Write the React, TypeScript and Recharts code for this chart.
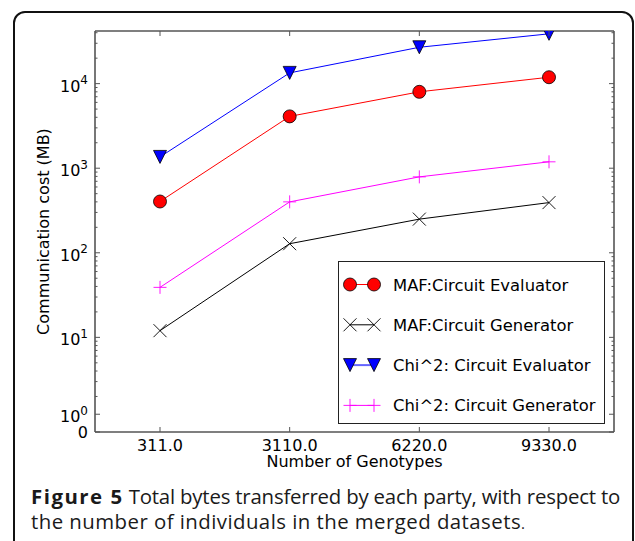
import React from 'react';
import { LineChart, Line, XAxis, YAxis, Legend } from 'recharts';

// ---------- data ----------
const genotypes = ['311.0', '3110.0', '6220.0', '9330.0'];
const mafEvaluator = [404, 4100, 8000, 11900];
const mafGenerator = [12, 128, 250, 392];
const chiEvaluator = [1360, 13400, 26900, 38800];
const chiGenerator = [39, 400, 790, 1190];

const yMajorTicks = [0, 1, 10, 100, 1000, 10000];
const yMajorLabels = ['0', '10^0', '10^1', '10^2', '10^3', '10^4'];
const yMinorMultipliers = [2, 3, 4, 5, 6, 7, 8, 9];
const yMinorDecades = [1, 10, 100, 1000, 10000];
const Y_MAX = 41900;

// ---------- symmetric-log style transform (linear below 2, log above) ----------
const LIN_THRESH = 2;
const LIN_SPAN = 0.42; // width of the linear part, in decades
const sy = (v: number) =>
  v <= LIN_THRESH ? (v * LIN_SPAN) / LIN_THRESH : LIN_SPAN + Math.log10(v / LIN_THRESH);

const Y_TOP = sy(Y_MAX);

type TickInfo = { major: boolean; label: string };
const tickInfo = new Map<string, TickInfo>();
const tkey = (u: number) => u.toFixed(5);
yMajorTicks.forEach((v, i) => tickInfo.set(tkey(sy(v)), { major: true, label: yMajorLabels[i] }));
yMinorDecades.forEach((d) =>
  yMinorMultipliers.forEach((m) => {
    const u = sy(d * m);
    if (u <= Y_TOP) tickInfo.set(tkey(u), { major: false, label: '' });
  })
);
const yTicks = Array.from(tickInfo.keys())
  .map(Number)
  .sort((a, b) => a - b);

const SERIES = [
  { key: 'mafE', name: 'MAF:Circuit Evaluator', values: mafEvaluator, color: '#ff0000', marker: 'circle' },
  { key: 'mafG', name: 'MAF:Circuit Generator', values: mafGenerator, color: '#000000', marker: 'x' },
  { key: 'chiE', name: 'Chi^2: Circuit Evaluator', values: chiEvaluator, color: '#0000ff', marker: 'tri' },
  { key: 'chiG', name: 'Chi^2: Circuit Generator', values: chiGenerator, color: '#ff00ff', marker: 'plus' },
];

const rows = genotypes.map((g, i) => {
  const r: Record<string, number | string> = { cat: g };
  SERIES.forEach((s) => {
    r[s.key] = sy(s.values[i]);
  });
  return r;
});

// ---------- layout constants ----------
const W = 635;
const CH = 480;
const PL = 95;
const PR = 614;
const PT = 31;
const PB = 432;
const AX = '#555555';
const FONT = 'DejaVu Sans, Verdana, sans-serif';

// ---------- markers ----------
const Marker = ({ kind, cx, cy, color }: { kind: string; cx: number; cy: number; color: string }) => {
  const s = 6.5;
  if (kind === 'circle')
    return <circle cx={cx} cy={cy} r={s} fill={color} stroke="#000" strokeWidth={0.8} />;
  if (kind === 'tri')
    return (
      <polygon
        points={`${cx - s},${cy - s} ${cx + s},${cy - s} ${cx},${cy + s}`}
        fill={color}
        stroke="#000"
        strokeWidth={0.8}
      />
    );
  if (kind === 'x')
    return (
      <g stroke={color} strokeWidth={0.9}>
        <line x1={cx - s} y1={cy - s} x2={cx + s} y2={cy + s} />
        <line x1={cx - s} y1={cy + s} x2={cx + s} y2={cy - s} />
      </g>
    );
  return (
    <g stroke={color} strokeWidth={0.9}>
      <line x1={cx - s} y1={cy} x2={cx + s} y2={cy} />
      <line x1={cx} y1={cy - s} x2={cx} y2={cy + s} />
    </g>
  );
};

// ---------- ticks ----------
const SupLabel = ({ x, y, label }: { x: number; y: number; label: string }) => {
  if (label.indexOf('^') < 0)
    return (
      <text x={x} y={y + 5.5} textAnchor="end" fontFamily={FONT} fontSize={16} fill="#000">
        {label}
      </text>
    );
  const [base, exp] = label.split('^');
  return (
    <text x={x} y={y + 8} textAnchor="end" fontFamily={FONT} fontSize={16} fill="#000">
      <tspan>{base}</tspan>
      <tspan dy={-7.5} fontSize={12}>
        {exp}
      </tspan>
    </text>
  );
};

const LeftTick = (p: any) => {
  const info = tickInfo.get(tkey(p.payload.value)) || { major: false, label: '' };
  const y = p.y;
  const len = info.major ? 5 : 2.5;
  return (
    <g>
      <line x1={PL} x2={PL + len} y1={y} y2={y} stroke={AX} strokeWidth={1} />
      {info.major ? <SupLabel x={88} y={y} label={info.label} /> : null}
    </g>
  );
};

const RightTick = (p: any) => {
  const info = tickInfo.get(tkey(p.payload.value)) || { major: false, label: '' };
  const y = p.y;
  const len = info.major ? 5 : 2.5;
  return <line x1={PR} x2={PR - len} y1={y} y2={y} stroke={AX} strokeWidth={1} />;
};

const BottomTick = (p: any) => (
  <g>
    <line x1={p.x} x2={p.x} y1={PB} y2={PB - 5} stroke={AX} strokeWidth={1} />
    <text x={p.x} y={451} textAnchor="middle" fontFamily={FONT} fontSize={16} fill="#000">
      {p.payload.value}
    </text>
  </g>
);

const TopTick = (p: any) => (
  <line x1={p.x} x2={p.x} y1={PT} y2={PT + 5} stroke={AX} strokeWidth={1} />
);

const XLabel = (p: any) => {
  const vb = p.viewBox || { x: PL, y: PB, width: PR - PL, height: 48 };
  return (
    <text x={vb.x + vb.width / 2} y={vb.y + 34.5} textAnchor="middle" fontFamily={FONT} fontSize={16} fill="#000">
      Number of Genotypes
    </text>
  );
};

const YLabel = (p: any) => {
  const vb = p.viewBox || { x: 0, y: PT, width: PL, height: PB - PT };
  const cx = 48.5;
  const cy = vb.y + vb.height / 2;
  return (
    <text
      x={cx}
      y={cy}
      transform={`rotate(-90, ${cx}, ${cy})`}
      textAnchor="middle"
      fontFamily={FONT}
      fontSize={16}
      fill="#000"
    >
      Communication cost (MB)
    </text>
  );
};

// ---------- legend ----------
const renderLegend = (props: any) => {
  const payload: any[] = props.payload || [];
  const ordered = SERIES.map((s) => ({ s, entry: payload.find((e) => e.dataKey === s.key) })).filter(
    (o) => o.entry
  );
  return (
    <svg width={268} height={164} style={{ display: 'block' }}>
      <rect x={0.5} y={0.5} width={266} height={162} fill="#fff" stroke="#222" strokeWidth={1} />
      {ordered.map(({ s, entry }, i) => {
        const cy = 23.5 + i * 40.3;
        return (
          <g key={s.key}>
            <line
              x1={12}
              x2={36}
              y1={cy}
              y2={cy}
              stroke={s.color}
              strokeWidth={s.key === 'chiE' ? 2 : 1}
              opacity={s.key === 'chiE' ? 0.6 : 1}
            />
            <Marker kind={s.marker} cx={12} cy={cy} color={s.color} />
            <Marker kind={s.marker} cx={36} cy={cy} color={s.color} />
            <text x={55} y={cy + 6} fontFamily={FONT} fontSize={16.4} fill="#000">
              {entry.value}
            </text>
          </g>
        );
      })}
    </svg>
  );
};

export default function App() {
  return (
    <div
      style={{
        position: 'fixed',
        left: 0,
        top: 0,
        width: W,
        height: 541,
        overflow: 'hidden',
        background: '#fff',
      }}
    >
      <div
        style={{
          position: 'absolute',
          left: 13,
          top: 11,
          width: 621,
          height: 600,
          border: '2px solid #111',
          borderRadius: 12,
          boxSizing: 'border-box',
        }}
      />
      <div style={{ position: 'absolute', left: 0, top: 0 }}>
        <LineChart width={W} height={CH} data={rows} margin={{ top: 0, right: 0, bottom: 0, left: 0 }}>
          <XAxis
            dataKey="cat"
            type="category"
            height={48}
            padding={{ left: 65, right: 65 }}
            axisLine={{ stroke: AX, strokeWidth: 1.6 }}
            tickLine={false}
            tick={BottomTick}
            interval={0}
            label={<XLabel />}
          />
          <XAxis
            xAxisId="top"
            orientation="top"
            dataKey="cat"
            type="category"
            height={31}
            padding={{ left: 65, right: 65 }}
            axisLine={{ stroke: AX, strokeWidth: 1.6 }}
            tickLine={false}
            tick={TopTick}
            interval={0}
          />
          <YAxis
            type="number"
            width={95}
            domain={[0, Y_TOP]}
            ticks={yTicks}
            interval={0}
            allowDataOverflow
            axisLine={{ stroke: AX, strokeWidth: 1.6 }}
            tickLine={false}
            tick={LeftTick}
            label={<YLabel />}
          />
          <YAxis
            yAxisId="r"
            orientation="right"
            type="number"
            width={21}
            domain={[0, Y_TOP]}
            ticks={yTicks}
            interval={0}
            allowDataOverflow
            axisLine={{ stroke: AX, strokeWidth: 1.6 }}
            tickLine={false}
            tick={RightTick}
          />
          <Legend
            layout="vertical"
            align="center"
            verticalAlign="middle"
            content={renderLegend}
            wrapperStyle={{ position: 'absolute', left: 338, top: 261, width: 268, height: 164 }}
          />
          {SERIES.map((s) => (
            <Line
              key={s.key}
              dataKey={s.key}
              name={s.name}
              stroke={s.color}
              strokeWidth={1}
              isAnimationActive={false}
              activeDot={false}
              dot={(dp: any) => (
                <Marker key={`${s.key}-${dp.index}`} kind={s.marker} cx={dp.cx} cy={dp.cy} color={s.color} />
              )}
            />
          ))}
        </LineChart>
      </div>
      <div
        style={{
          position: 'absolute',
          left: 31,
          top: 484,
          width: 596,
          fontFamily: '"Open Sans", "Noto Sans", sans-serif',
          fontSize: 20.4,
          lineHeight: '24.5px',
          color: '#1a1a1a',
          whiteSpace: 'nowrap',
        }}
      >
        <div style={{ letterSpacing: -0.2 }}>
          <b style={{ letterSpacing: 1.5 }}>Figure 5</b> Total bytes transferred by each party, with respect to
        </div>
        <div style={{ letterSpacing: 0.45 }}>
          the number of individuals in the merged datasets<span style={{ fontSize: 15 }}>.</span>
        </div>
      </div>
    </div>
  );
}
